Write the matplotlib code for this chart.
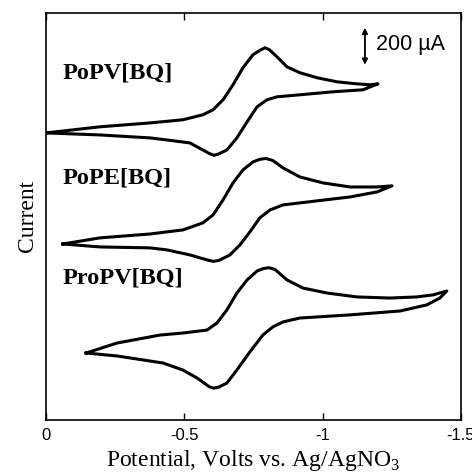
import matplotlib
matplotlib.use("Agg")
import matplotlib.pyplot as plt

plt.rcParams['mathtext.fontset'] = 'custom'
plt.rcParams['mathtext.rm'] = 'Liberation Serif'

# potential (V vs Ag/AgNO3) and current (uA, curves stacked)
# PoPV[BQ]
popv_v = [0, -0.195, -0.376, -0.495, -0.567, -0.604, -0.640, -0.676, -0.712, -0.748,
          -0.774, -0.792, -0.808, -0.835, -0.871, -0.918, -0.980, -1.052, -1.124, -1.171,
          -1.200,
          -1.146, -1.037, -0.918, -0.835, -0.799, -0.763, -0.727, -0.690, -0.654, -0.625,
          -0.608, -0.590, -0.567, -0.520, -0.437, -0.376, -0.195, 0]
popv_i = [1551, 1584, 1605, 1622, 1649, 1676, 1730, 1811, 1903, 1973,
          1998, 2011, 2000, 1962, 1908, 1876, 1849, 1827, 1816, 1811,
          1816,
          1784, 1773, 1757, 1746, 1730, 1692, 1611, 1524, 1459, 1438,
          1430, 1440, 1459, 1497, 1513, 1524, 1540, 1551]

# PoPE[BQ]
pope_v = [-0.061, -0.195, -0.376, -0.495, -0.567, -0.604, -0.640, -0.676, -0.712, -0.748,
          -0.772, -0.795, -0.820, -0.857, -0.918, -1.001, -1.099, -1.196, -1.251,
          -1.196, -1.099, -0.980, -0.857, -0.810, -0.773, -0.737, -0.701, -0.665, -0.625,
          -0.605, -0.582, -0.520, -0.437, -0.376, -0.195, -0.061]
pope_i = [951, 984, 1005, 1027, 1065, 1108, 1189, 1281, 1351, 1394,
          1408, 1413, 1402, 1362, 1313, 1281, 1259, 1259, 1265,
          1232, 1205, 1184, 1162, 1135, 1092, 1016, 946, 892, 862,
          857, 865, 892, 919, 930, 935, 951]

# ProPV[BQ]
propv_v = [-0.145, -0.257, -0.412, -0.495, -0.582, -0.618, -0.654, -0.690, -0.727, -0.763,
           -0.785, -0.806, -0.828, -0.871, -0.929, -1.016, -1.124, -1.243, -1.341, -1.399,
           -1.449,
           -1.424, -1.377, -1.280, -1.099, -0.918, -0.857, -0.820, -0.784, -0.737, -0.690,
           -0.654, -0.625, -0.607, -0.590, -0.546, -0.495, -0.423, -0.257, -0.145]
propv_i = [362, 416, 459, 470, 486, 524, 595, 686, 757, 805,
           818, 823, 813, 757, 713, 686, 665, 659, 665, 676,
           697,
           659, 622, 589, 568, 551, 530, 503, 459, 368, 270,
           200, 178, 172, 180, 227, 270, 308, 346, 362]

curves = [(popv_v, popv_i, 'PoPV[BQ]', 1876),
          (pope_v, pope_i, 'PoPE[BQ]', 1308),
          (propv_v, propv_i, 'ProPV[BQ]', 767)]

fig = plt.figure(figsize=(4.72, 4.73), dpi=100)
ax = fig.add_axes([0.0975, 0.112, 0.879, 0.861])

for v, i, name, ylab in curves:
    ax.plot(v, i, color='black', lw=2.2, solid_joinstyle='round')
    ax.text(-0.061, ylab, name, fontsize=17.5, fontweight='bold',
            family='Liberation Serif', va='center', ha='left')

# 200 uA scale bar
ax.annotate('', xy=(-1.153, 2119), xytext=(-1.153, 1919),
            arrowprops=dict(arrowstyle='<|-|>', lw=1.3, color='black',
                            mutation_scale=8, shrinkA=0, shrinkB=0))
ax.text(-1.193, 2030, '200 µA', fontsize=15.5, family='Liberation Sans',
        va='center', ha='left')

ax.set_xlim(0, -1.5)
ax.set_ylim(0, 2200)
ax.set_xticks([0, -0.5, -1, -1.5])
ax.set_xticklabels(['0', '-0.5', '-1', '-1.5'], family='Liberation Sans', fontsize=12)
ax.set_yticks([])
ax.tick_params(axis='x', direction='in', top=True, length=5, width=1, pad=6)
for s in ax.spines.values():
    s.set_linewidth(1.2)

ax.set_xlabel('Potential, Volts vs. Ag/AgNO$_\\mathrm{3}$', family='Liberation Serif',
              fontsize=17, labelpad=3)
ax.set_ylabel('Current', family='Liberation Serif', fontsize=17, labelpad=6)

fig.savefig('out.png', dpi=100)
